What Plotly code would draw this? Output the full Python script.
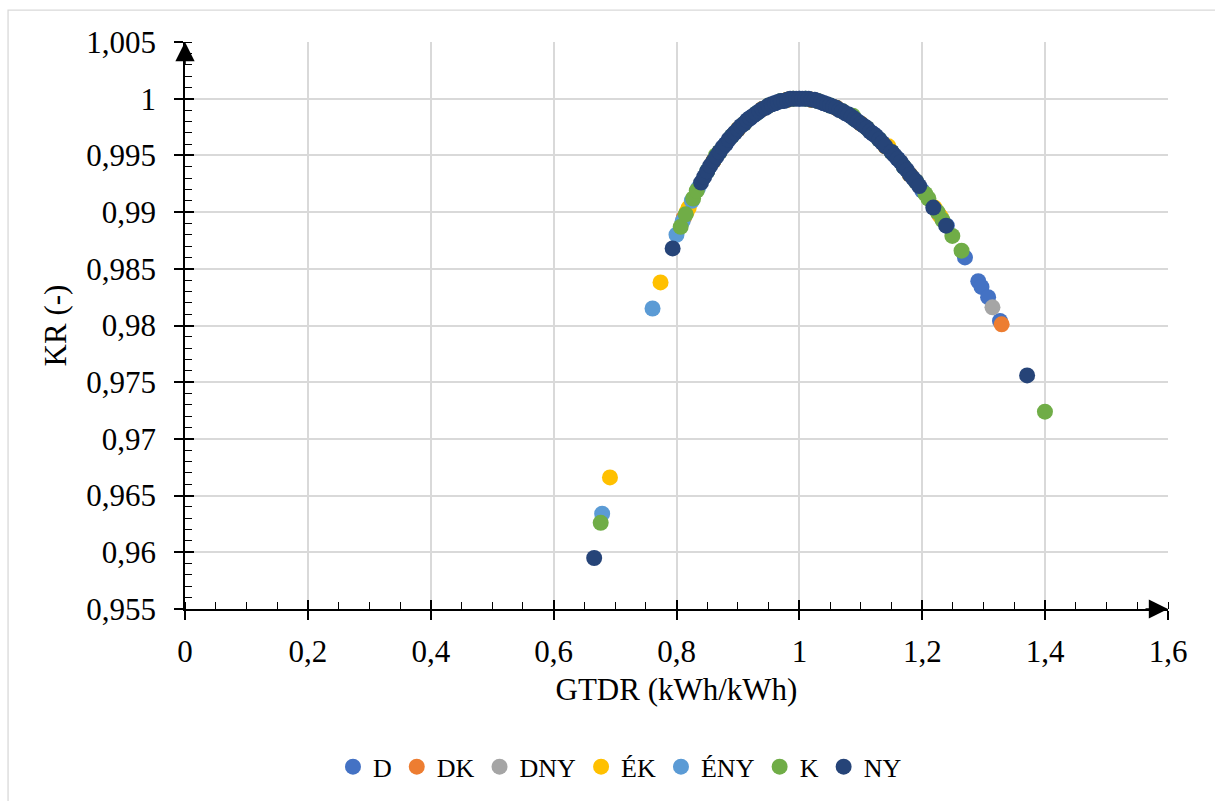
import plotly.graph_objects as go

# ---------------- data ----------------
series_names = ["D", "DK", "DNY", "ÉK", "ÉNY", "K", "NY"]
series_colors = ["#4472C4", "#ED7D31", "#A5A5A5", "#FFC000", "#5B9BD5", "#70AD47", "#264478"]

D_x = [0.88, 0.92, 0.96, 1.00, 1.04, 1.08, 1.12, 1.16, 1.20, 1.24, 1.2695, 1.2912, 1.2964, 1.3072, 1.3265]
D_y = [0.9960, 0.9983, 0.9996, 1.0000, 0.9996, 0.9986, 0.9969, 0.9947, 0.9919, 0.9888, 0.9860, 0.9839, 0.9834, 0.9825, 0.9804]

DK_x = [0.812, 0.86, 0.90, 0.94, 0.98, 1.02, 1.06, 1.10, 1.14, 1.18, 1.227, 1.3292]
DK_y = [0.9895, 0.9945, 0.9973, 0.9991, 0.9999, 0.9999, 0.9992, 0.9978, 0.9958, 0.9933, 0.9898, 0.9801]

DNY_x = [0.87, 0.91, 0.95, 0.99, 1.03, 1.07, 1.11, 1.15, 1.19, 1.3143]
DNY_y = [0.9953, 0.9978, 0.9994, 1.0000, 0.9998, 0.9989, 0.9974, 0.9953, 0.9927, 0.9816]

EK_x = [0.6917, 0.774, 0.8165, 0.82, 0.86, 0.90, 0.94, 0.98, 1.02, 1.06, 1.10, 1.14, 1.145, 1.18, 1.22, 1.23]
EK_y = [0.9666, 0.9838, 0.9900, 0.9904, 0.9945, 0.9973, 0.9991, 0.9999, 0.9999, 0.9992, 0.9978, 0.9958, 0.9958, 0.9933, 0.9904, 0.9896]

ENY_x = [0.679, 0.761, 0.80, 0.81, 0.825, 0.835, 0.85, 0.89, 0.93, 0.97, 1.01, 1.05, 1.09, 1.13, 1.17]
ENY_y = [0.9634, 0.9815, 0.9880, 0.9892, 0.9910, 0.9921, 0.9936, 0.9967, 0.9987, 0.9998, 1.0000, 0.9994, 0.9982, 0.9964, 0.9940]

K_x = [0.6766, 0.8068, 0.815, 0.827, 0.833, 0.85, 0.864, 0.87, 0.89, 0.91, 0.93, 0.95, 0.97, 0.99, 1.01, 1.03,
       1.05, 1.07, 1.087, 1.09, 1.11, 1.13, 1.15, 1.17, 1.19, 1.205, 1.21, 1.225, 1.233, 1.249, 1.264, 1.3997]
K_y = [0.9626, 0.9887, 0.9898, 0.9912, 0.9919, 0.9936, 0.9950, 0.9953, 0.9967, 0.9978, 0.9987, 0.9994, 0.9998, 1.0000, 1.0000, 0.9998,
       0.9994, 0.9989, 0.9985, 0.9982, 0.9974, 0.9964, 0.9953, 0.9940, 0.9927, 0.9916, 0.9912, 0.9900, 0.9893, 0.9879, 0.9866, 0.9724]

NY_x = [0.666, 0.7937, 0.84, 0.845, 0.85, 0.855, 0.86, 0.865, 0.87, 0.875, 0.88, 0.885, 0.89, 0.895, 0.90, 0.905,
        0.91, 0.915, 0.92, 0.925, 0.93, 0.935, 0.94, 0.945, 0.95, 0.955, 0.96, 0.965, 0.97, 0.975, 0.98, 0.985,
        0.99, 0.995, 1.00, 1.005, 1.01, 1.015, 1.02, 1.025, 1.03, 1.035, 1.04, 1.045, 1.05, 1.055, 1.06, 1.065,
        1.07, 1.075, 1.08, 1.085, 1.09, 1.095, 1.10, 1.105, 1.11, 1.115, 1.12, 1.125, 1.13, 1.135, 1.14, 1.15,
        1.155, 1.16, 1.165, 1.17, 1.175, 1.18, 1.185, 1.19, 1.195, 1.218, 1.2389, 1.3707]
NY_y = [0.9595, 0.9868, 0.9926, 0.9931, 0.9936, 0.9941, 0.9945, 0.9949, 0.9953, 0.9957, 0.9960, 0.9964, 0.9967, 0.9970, 0.9973, 0.9976,
        0.9978, 0.9981, 0.9983, 0.9985, 0.9987, 0.9989, 0.9991, 0.9992, 0.9994, 0.9995, 0.9996, 0.9997, 0.9998, 0.9998, 0.9999, 1.0000,
        1.0000, 1.0000, 1.0000, 1.0000, 1.0000, 1.0000, 0.9999, 0.9999, 0.9998, 0.9997, 0.9996, 0.9995, 0.9994, 0.9993, 0.9992, 0.9990,
        0.9989, 0.9987, 0.9986, 0.9984, 0.9982, 0.9980, 0.9978, 0.9976, 0.9974, 0.9971, 0.9969, 0.9967, 0.9964, 0.9961, 0.9958, 0.9953,
        0.9950, 0.9947, 0.9944, 0.9940, 0.9937, 0.9933, 0.9930, 0.9927, 0.9923, 0.9904, 0.9888, 0.9756]

series_x = [D_x, DK_x, DNY_x, EK_x, ENY_x, K_x, NY_x]
series_y = [D_y, DK_y, DNY_y, EK_y, ENY_y, K_y, NY_y]

x_title = "GTDR (kWh/kWh)"
y_title = "KR (-)"
x_range = [0, 1.6]
y_range = [0.955, 1.005]

# ---------------- figure ----------------
FONT = "Liberation Serif, Times New Roman, serif"
fig = go.Figure()
for name, color, xs, ys in zip(series_names, series_colors, series_x, series_y):
    fig.add_trace(go.Scatter(x=xs, y=ys, mode="markers", name=name,
                             marker=dict(size=16, color=color, line=dict(width=0))))

# invisible trace for the overlay axes (inner half of major ticks)
fig.add_trace(go.Scatter(x=[], y=[], xaxis="x2", yaxis="y2", showlegend=False, hoverinfo="skip"))

grid = "#d9d9d9"
fig.update_layout(
    width=1215, height=801,
    margin=dict(l=185, r=47, t=42, b=191),
    plot_bgcolor="white", paper_bgcolor="white",
    separators=", ",
    font=dict(family=FONT, size=31, color="black"),
    showlegend=True,
    legend=dict(orientation="h", x=0.4425, xanchor="center", y=-0.276, yanchor="middle",
                font=dict(family=FONT, size=26, color="black"),
                itemwidth=30, tracegroupgap=0, bgcolor="rgba(0,0,0,0)"),
    xaxis=dict(range=x_range, dtick=0.2, tick0=0, showgrid=True, gridcolor=grid, gridwidth=2,
               zeroline=False, showline=True, linecolor="black", linewidth=1.6,
               ticks="outside", ticklen=9, tickwidth=1.6, tickcolor="black",
               ticklabelstandoff=5,
               minor=dict(ticks="inside", ticklen=7, tickwidth=1.4, tickcolor="black", dtick=0.05, showgrid=False),
               title=dict(text=x_title, standoff=10, font=dict(family=FONT, size=31))),
    yaxis=dict(range=y_range, dtick=0.005, tick0=0.955, showgrid=True, gridcolor=grid, gridwidth=2,
               zeroline=False, showline=True, linecolor="black", linewidth=1.6,
               ticks="outside", ticklen=9, tickwidth=1.6, tickcolor="black",
               ticklabelstandoff=12,
               minor=dict(ticks="inside", ticklen=7, tickwidth=1.4, tickcolor="black", dtick=0.001, showgrid=False),
               title=dict(text=y_title, standoff=10, font=dict(family=FONT, size=31))),
    xaxis2=dict(range=x_range, dtick=0.2, tick0=0, overlaying="x", anchor="y", side="bottom",
                showgrid=False, zeroline=False, showline=False, showticklabels=False,
                ticks="inside", ticklen=9, tickwidth=1.6, tickcolor="black"),
    yaxis2=dict(range=y_range, dtick=0.005, tick0=0.955, overlaying="y", anchor="x", side="left",
                showgrid=False, zeroline=False, showline=False, showticklabels=False,
                ticks="inside", ticklen=9, tickwidth=1.6, tickcolor="black"),
)

# axis arrows
fig.add_annotation(x=0, y=y_range[1], xref="x", yref="y", ax=0, ay=24, text="", showarrow=True,
                   arrowhead=2, arrowsize=2.4, arrowwidth=1.6, arrowcolor="black", standoff=0)
fig.add_annotation(x=x_range[1], y=y_range[0], xref="x", yref="y", ax=-24, ay=0, text="", showarrow=True,
                   arrowhead=2, arrowsize=2.4, arrowwidth=1.6, arrowcolor="black", standoff=0)

# chart-area border
fig.add_shape(type="rect", xref="paper", yref="paper", x0=-0.18, y0=-0.45, x1=1.08, y1=1.0563,
              line=dict(color=grid, width=1.3), fillcolor="rgba(0,0,0,0)", layer="below")

fig.write_html("out.html")
